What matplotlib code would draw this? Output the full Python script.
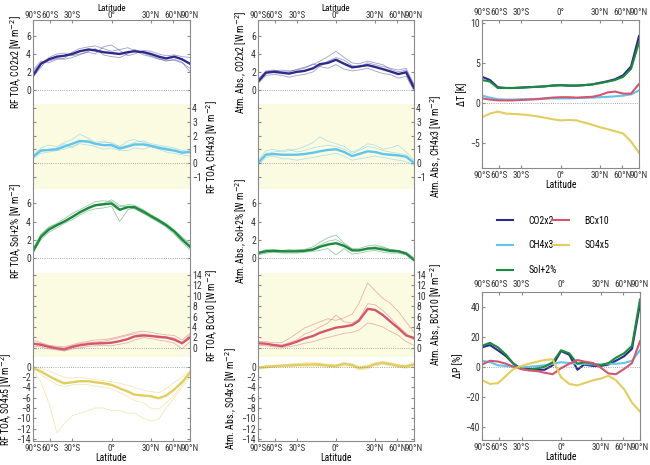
import numpy as np
import matplotlib
matplotlib.use("Agg")
import matplotlib.pyplot as plt

plt.rcParams['font.family'] = ['Roboto Condensed', 'DejaVu Sans']
plt.rcParams['font.size'] = 7

# latitudes (deg), roughly evenly spaced in sin(lat)
lat = [-90, -64, -53, -44, -37, -30, -24, -17, -12, -6, 0, 6, 12, 17, 24, 30, 37, 44, 53, 64, 90]
# the 60° ticks sit where the original figure draws them
lat_ticks = [-90, -52, -30, 0, 30, 52, 90]
lat_labels = ['90°S', '60°S', '30°S', '0°', '30°N', '60°N', '90°N']

forcings = ['CO2x2', 'CH4x3', 'Sol+2%', 'BCx10', 'SO4x5']
colors = ['#2d2a8c', '#62c4ea', '#1b8a3c', '#d4566e', '#e2cd5e']

# RF TOA, multi-model mean
rf_co2 = [1.6, 2.9, 3.4, 3.7, 3.8, 4.0, 4.3, 4.5, 4.4, 4.2, 4.1, 4.0, 4.2, 4.3, 4.2, 4.0, 3.7, 3.5, 3.7, 3.4, 2.9]
rf_ch4 = [0.45, 0.9, 0.95, 1.0, 1.2, 1.4, 1.6, 1.55, 1.4, 1.3, 1.3, 1.05, 1.2, 1.35, 1.35, 1.25, 1.1, 1.0, 0.9, 0.75, 0.8]
rf_sol = [0.7, 2.3, 3.1, 3.6, 4.0, 4.5, 5.0, 5.5, 5.8, 5.9, 6.0, 5.3, 5.6, 5.6, 5.1, 4.6, 4.1, 3.6, 2.9, 2.0, 1.2]
rf_bc = [0.8, 0.6, 0.2, -0.1, -0.3, 0.2, 0.5, 0.75, 0.85, 0.9, 1.0, 1.3, 1.7, 2.2, 2.4, 2.3, 2.1, 2.0, 1.6, 0.9, 2.0]
rf_so4 = [-0.2, -0.9, -1.8, -2.6, -3.2, -3.0, -2.8, -2.8, -3.0, -3.2, -3.5, -4.2, -4.8, -5.4, -5.6, -5.7, -6.1, -5.6, -4.4, -3.0, -1.1]

# RF TOA, individual models
rf_co2_models = [
    [2.2, 3.2, 3.0, 3.4, 3.5, 4.2, 4.6, 4.8, 4.9, 4.6, 4.3, 4.5, 4.7, 4.4, 3.9, 3.7, 3.4, 3.3, 3.3, 3.0, 2.4],
    [1.4, 2.5, 3.6, 4.0, 4.1, 3.8, 4.0, 4.2, 4.0, 4.8, 5.0, 4.4, 3.8, 4.0, 4.4, 4.3, 4.0, 3.8, 3.9, 3.7, 3.6],
    [2.0, 3.0, 3.2, 3.5, 3.4, 3.6, 3.9, 4.3, 4.6, 3.9, 3.7, 3.6, 4.0, 4.5, 4.1, 3.8, 3.5, 3.2, 3.4, 3.1, 2.0],
]
rf_ch4_models = [
    [0.6, 1.1, 1.3, 1.2, 1.5, 1.7, 2.1, 1.8, 1.5, 1.6, 1.4, 1.2, 1.6, 1.7, 1.5, 1.3, 1.2, 1.1, 1.0, 0.8, 0.9],
    [0.3, 0.7, 0.8, 0.9, 1.0, 1.2, 1.4, 1.3, 1.2, 1.0, 1.1, 0.9, 0.9, 1.1, 1.0, 1.2, 1.0, 0.8, 0.7, 0.6, 0.5],
    [0.5, 1.0, 0.9, 1.1, 1.4, 1.1, 1.5, 1.7, 1.4, 1.5, 1.5, 1.2, 1.3, 1.5, 1.6, 1.4, 1.3, 1.2, 1.1, 0.9, 1.0],
]
rf_sol_models = [
    [0.8, 2.5, 3.4, 3.8, 4.3, 4.9, 5.3, 5.8, 6.2, 6.3, 6.2, 5.6, 5.9, 5.8, 5.3, 4.8, 4.2, 3.8, 3.1, 2.2, 1.4],
    [0.5, 2.0, 2.8, 3.3, 3.8, 4.2, 4.7, 5.2, 5.4, 5.5, 5.7, 4.0, 5.3, 5.5, 4.9, 4.4, 3.9, 3.4, 2.6, 1.7, 0.9],
    [1.0, 2.6, 3.3, 3.7, 4.0, 4.6, 5.1, 5.6, 5.9, 6.0, 6.4, 5.8, 5.6, 5.4, 4.9, 4.7, 4.3, 3.7, 3.0, 2.3, 1.6],
]
rf_bc_models = [
    [1.5, 1.0, 0.5, 0.3, 0.2, 0.6, 1.0, 1.3, 1.5, 1.6, 1.8, 2.2, 2.6, 3.0, 3.2, 3.0, 2.7, 2.5, 2.4, 1.5, 2.8],
    [0.3, 0.2, -0.2, -0.4, -0.6, -0.2, 0.0, 0.3, 0.4, 0.5, 0.4, 0.7, 1.0, 1.5, 2.0, 1.8, 1.5, 1.3, 0.9, -0.2, 1.2],
    [1.0, 0.8, 0.4, 0.1, 0.0, 0.4, 0.8, 1.0, 1.1, 1.3, 1.6, 2.0, 2.4, 2.7, 2.6, 2.4, 2.3, 2.1, 1.9, 1.0, 2.5],
]
rf_so4_models = [
    [-0.5, -3.0, -7.0, -12.8, -11.0, -9.5, -9.0, -8.5, -8.0, -8.0, -8.5, -8.5, -9.0, -9.0, -10.0, -10.5, -10.2, -8.0, -6.0, -4.0, -2.0],
    [0.0, -0.3, -0.8, -1.5, -2.0, -2.2, -2.0, -2.3, -2.5, -2.7, -2.9, -3.2, -3.6, -4.0, -4.5, -4.8, -5.0, -4.3, -3.0, -2.0, -0.8],
    [-0.2, -1.5, -2.5, -3.5, -3.8, -3.5, -3.4, -3.5, -3.8, -4.0, -4.3, -5.0, -5.8, -6.5, -7.0, -8.0, -8.2, -7.0, -5.5, -3.5, -1.5],
]

# Atmospheric absorption, multi-model mean
abs_co2 = [0.9, 1.9, 2.0, 1.9, 1.8, 2.0, 2.1, 2.4, 2.85, 3.0, 3.35, 2.9, 2.5, 2.6, 2.75, 2.55, 2.3, 2.05, 1.75, 1.95, 0.2]
abs_ch4 = [0.0, 0.6, 0.65, 0.6, 0.6, 0.6, 0.65, 0.75, 0.85, 0.95, 1.0, 0.8, 0.5, 0.65, 0.85, 0.8, 0.65, 0.6, 0.55, 0.45, 0.0]
abs_sol = [0.5, 0.7, 0.75, 0.7, 0.7, 0.7, 0.75, 0.9, 1.2, 1.45, 1.6, 1.3, 0.8, 0.8, 1.0, 1.05, 0.9, 0.75, 0.7, 0.45, -0.25]
abs_bc = [0.9, 0.8, 0.55, 0.35, 0.7, 1.2, 1.8, 2.3, 2.9, 3.4, 3.9, 4.1, 4.4, 5.2, 7.5, 7.3, 6.3, 5.1, 3.8, 2.4, 1.9]
abs_so4 = [-0.2, 0.0, 0.1, 0.2, 0.25, 0.35, 0.4, 0.45, 0.4, 0.2, 0.15, 0.55, 0.3, -0.2, 0.0, 0.5, 0.75, 0.5, 0.15, 0.05, 0.45]

# Atmospheric absorption, individual models
abs_co2_models = [
    [1.2, 2.1, 2.2, 2.0, 2.0, 2.3, 2.5, 2.8, 3.2, 3.7, 4.3, 3.6, 3.0, 2.9, 3.2, 3.0, 2.8, 2.3, 2.0, 2.2, 0.5],
    [0.7, 1.6, 1.7, 1.6, 1.4, 1.6, 1.7, 2.0, 2.6, 2.4, 2.8, 2.3, 2.1, 2.2, 2.4, 2.1, 1.8, 1.7, 1.3, 1.5, -0.1],
    [1.0, 2.0, 2.1, 2.2, 2.1, 2.2, 2.4, 2.9, 2.6, 3.2, 3.6, 3.3, 2.7, 2.5, 3.0, 2.8, 2.6, 2.4, 2.2, 2.4, 0.6],
]
abs_ch4_models = [
    [0.2, 0.9, 1.0, 0.8, 0.9, 1.0, 1.2, 1.5, 1.9, 1.6, 1.4, 1.2, 0.8, 1.0, 1.4, 1.3, 1.0, 1.1, 1.3, 0.8, 0.2],
    [-0.2, 0.4, 0.5, 0.3, 0.3, 0.2, 0.3, 0.4, 0.5, 0.6, 0.7, 0.5, 0.2, 0.3, 0.4, 0.5, 0.4, 0.3, 0.2, 0.1, -0.2],
    [0.1, 0.7, 0.8, 0.9, 1.0, 0.8, 0.9, 1.1, 1.2, 1.3, 1.2, 1.0, 0.7, 0.9, 1.2, 1.1, 0.9, 0.8, 0.7, 0.6, 0.1],
]
abs_sol_models = [
    [0.6, 0.9, 0.9, 0.8, 0.9, 0.8, 0.9, 1.2, 1.7, 2.2, 2.5, 1.6, 1.0, 1.0, 1.3, 1.4, 1.2, 0.9, 0.8, 0.6, 0.0],
    [0.3, 0.5, 0.6, 0.5, 0.5, 0.5, 0.6, 0.7, 0.8, 1.0, 0.3, 1.0, 0.4, 0.5, 0.7, 0.8, 0.6, 0.5, 0.5, 0.3, -0.4],
    [0.5, 0.8, 0.8, 0.8, 0.7, 0.9, 0.8, 1.0, 1.4, 1.8, 2.0, 1.5, 0.9, 0.8, 1.1, 1.2, 1.1, 0.9, 0.8, 0.5, -0.2],
]
abs_bc_models = [
    [1.2, 1.2, 1.0, 1.0, 1.8, 2.8, 3.8, 4.5, 5.0, 5.6, 5.3, 5.8, 6.5, 8.5, 12.5, 11.0, 9.5, 8.6, 7.0, 5.0, 3.0],
    [0.5, 0.4, 0.2, 0.1, 0.2, 0.5, 0.9, 1.2, 1.6, 2.0, 2.4, 2.8, 3.0, 3.4, 4.8, 4.5, 4.0, 3.2, 2.4, 1.2, 0.5],
    [0.9, 0.8, 0.6, 0.5, 1.0, 1.6, 2.6, 3.3, 4.0, 4.8, 6.3, 5.0, 4.8, 5.5, 8.5, 8.3, 7.2, 5.8, 4.2, 2.8, 1.5],
]
abs_so4_models = [
    [-0.5, -0.3, 0.0, 0.3, 0.5, 0.6, 0.8, 0.9, 0.6, 0.4, 0.3, 0.9, 0.5, -0.5, -0.2, 0.7, 1.0, 0.8, 0.4, 0.3, 0.8],
    [-0.3, -0.2, -0.1, 0.0, 0.0, 0.1, 0.1, 0.0, 0.1, -0.1, -0.2, 0.2, 0.0, -0.6, -0.4, 0.2, 0.4, 0.2, -0.1, -0.3, 0.1],
    [0.0, 0.2, 0.3, 0.4, 0.5, 0.5, 0.6, 0.6, 0.7, 0.5, 0.4, 0.7, 0.6, 0.1, 0.3, 0.8, 1.0, 0.7, 0.4, 0.2, 0.6],
]

# temperature response dT [K]
dt_co2 = [3.3, 2.9, 2.0, 1.9, 1.9, 1.95, 2.0, 2.05, 2.1, 2.2, 2.25, 2.2, 2.2, 2.25, 2.35, 2.55, 2.75, 3.0, 3.5, 4.6, 8.4]
dt_ch4 = [0.95, 0.7, 0.5, 0.45, 0.45, 0.5, 0.5, 0.55, 0.55, 0.6, 0.6, 0.6, 0.65, 0.65, 0.7, 0.75, 0.8, 0.85, 0.95, 1.1, 1.6]
dt_sol = [2.9, 2.7, 1.9, 1.9, 1.9, 1.95, 2.0, 2.05, 2.1, 2.2, 2.25, 2.2, 2.2, 2.25, 2.35, 2.5, 2.7, 2.9, 3.3, 4.3, 7.6]
dt_bc = [0.6, 0.45, 0.35, 0.35, 0.35, 0.4, 0.45, 0.5, 0.6, 0.7, 0.75, 0.75, 0.7, 0.75, 0.8, 1.0, 1.35, 1.45, 1.2, 1.2, 2.4]
dt_so4 = [-1.75, -1.3, -1.05, -1.3, -1.35, -1.4, -1.5, -1.65, -1.8, -2.0, -2.15, -2.1, -2.15, -2.4, -2.7, -3.0, -3.25, -3.5, -3.8, -4.8, -6.2]

# precipitation response dP [%]
dp_co2 = [13, 14.5, 11, 7, 2, -1.5, -1.5, -2, -2, 1, 10.5, 8, -2, 1.5, 0.5, 0.5, 1.5, 4, 7, 12, 42]
dp_ch4 = [4, 3, 1, 0.5, 0, -0.5, 0, 0.5, 1, 2, 3, 2.5, 2, 2, 1.5, 1.5, 2, 2, 2.5, 4, 11]
dp_sol = [14, 16, 13, 8, 2, -1.5, -2, -1, 0, 3, 11, 9, 2, 3, 2, 1, 2.5, 6, 9, 14, 45]
dp_bc = [1.5, 4, 3.5, 2, 0, -1.5, -2.5, -3, -4, -5, -1, 2, 4.5, 3.5, 2.5, -0.5, -4.5, -5, -1.5, 2.5, 17]
dp_so4 = [-9, -11.5, -11, -6, -1.5, 0.5, 2, 3.5, 4.5, 5, -7, -11.5, -12.5, -11, -9, -8, -6, -9, -15, -24, -30]

rf_means = [rf_co2, rf_ch4, rf_sol, rf_bc, rf_so4]
rf_models = [rf_co2_models, rf_ch4_models, rf_sol_models, rf_bc_models, rf_so4_models]
abs_means = [abs_co2, abs_ch4, abs_sol, abs_bc, abs_so4]
abs_models = [abs_co2_models, abs_ch4_models, abs_sol_models, abs_bc_models, abs_so4_models]
dt_series = [dt_co2, dt_ch4, dt_sol, dt_bc, dt_so4]
dp_series = [dp_co2, dp_ch4, dp_sol, dp_bc, dp_so4]

ylims = [(-1.6, 7.8), (-1.9, 4.3), (-1.7, 7.6), (-1.75, 14.4), (-14.4, 1.9)]
yticks = [[0, 2, 4, 6], [-1, 0, 1, 2, 3, 4], [0, 2, 4, 6],
          list(range(0, 15, 2)), list(range(0, -15, -2))]
sides = ['left', 'right', 'left', 'right', 'left']

W, H = 650, 465
GRAY = '#8a8a8a'
SHADE = '#fbfbe2'


def fwd(x):
    return np.sin(np.deg2rad(x))


def inv(y):
    return np.rad2deg(np.arcsin(np.clip(y, -1, 1)))


def box(x0, y0, x1, y1):
    return [x0 / W, 1 - y1 / H, (x1 - x0) / W, (y1 - y0) / H]


def lat_axis(ax):
    ax.set_xscale('function', functions=(fwd, inv))
    ax.set_xlim(-90, 90)
    ax.set_xticks(lat_ticks)
    ax.set_xticklabels(lat_labels)
    for s in ax.spines.values():
        s.set_color(GRAY)
        s.set_linewidth(0.8)
    ax.tick_params(colors=GRAY, labelcolor='#333333', direction='in', length=2.5, labelsize=7, pad=1.5)
    ax.tick_params(axis='x', labelsize=6.6, pad=2)


fig = plt.figure(figsize=(6.5, 4.65), dpi=100)

edges = [20, 104, 189, 273, 357, 441]
columns = [(33, 190, 'RF TOA', rf_means, rf_models),
           (258, 414, 'Atm. Abs.,', abs_means, abs_models)]

for x0, x1, prefix, means, models in columns:
    for i in range(5):
        ax = fig.add_axes(box(x0, edges[i], x1, edges[i + 1]))
        lat_axis(ax)
        if i % 2 == 1:
            ax.set_facecolor(SHADE)
        for m in models[i]:
            ax.plot(lat, m, color=colors[i], lw=0.6, alpha=0.45)
        ax.plot(lat, means[i], color=colors[i], lw=1.7)
        ax.axhline(0, color=GRAY, lw=0.6, ls=':')
        ax.set_ylim(*ylims[i])
        ax.set_yticks(yticks[i])
        ax.spines['top'].set_visible(i == 0)
        ax.spines['bottom'].set_visible(i == 4)
        left = sides[i] == 'left'
        ax.tick_params(axis='y', left=True, right=True, labelleft=left, labelright=not left)
        ax.yaxis.set_label_position(sides[i])
        sep = ', ' if prefix == 'RF TOA' else ' '
        ax.set_ylabel(prefix + sep + forcings[i] + ' [W m$^{-2}$]', fontsize=7, labelpad=1.5)
        if i == 0:
            ax.tick_params(axis='x', top=True, bottom=False, labeltop=True, labelbottom=False, pad=0)
            ax.xaxis.set_label_position('top')
            ax.set_xlabel('Latitude', fontsize=6.4, labelpad=0)
        elif i == 4:
            ax.tick_params(axis='x', top=False, bottom=True, labeltop=False, labelbottom=True)
            ax.set_xlabel('Latitude', fontsize=7, labelpad=0)
        else:
            ax.tick_params(axis='x', top=False, bottom=False, labeltop=False, labelbottom=False)

# temperature panel
ax_t = fig.add_axes(box(482, 20, 639, 168))
lat_axis(ax_t)
for i in range(5):
    ax_t.plot(lat, dt_series[i], color=colors[i], lw=1.5, label=forcings[i])
ax_t.axhline(0, color=GRAY, lw=0.6, ls=':')
ax_t.set_ylim(-8.1, 10.4)
ax_t.set_yticks([-5, 0, 5, 10])
ax_t.tick_params(axis='x', top=True, labeltop=True)
ax_t.set_ylabel('ΔT [K]', fontsize=7, labelpad=2)
ax_t.set_xlabel('Latitude', fontsize=7, labelpad=0)

# precipitation panel
ax_p = fig.add_axes(box(482, 292, 640, 440))
lat_axis(ax_p)
for i in range(5):
    ax_p.plot(lat, dp_series[i], color=colors[i], lw=1.5)
ax_p.axhline(0, color=GRAY, lw=0.6, ls=':')
ax_p.set_ylim(-49, 50)
ax_p.set_yticks([-40, -20, 0, 20, 40])
ax_p.tick_params(axis='x', top=True, labeltop=True)
ax_p.set_ylabel('ΔP [%]', fontsize=7, labelpad=2)
ax_p.set_xlabel('Latitude', fontsize=7, labelpad=0)

handles, labels = ax_t.get_legend_handles_labels()
fig.legend(handles, labels, ncol=2, frameon=False, fontsize=7,
           loc='upper left', bbox_to_anchor=(488 / W, 1 - 207 / H),
           handlelength=1.7, handletextpad=1.6, labelspacing=1.5, columnspacing=-0.5)

fig.savefig('out.png', dpi=100)
